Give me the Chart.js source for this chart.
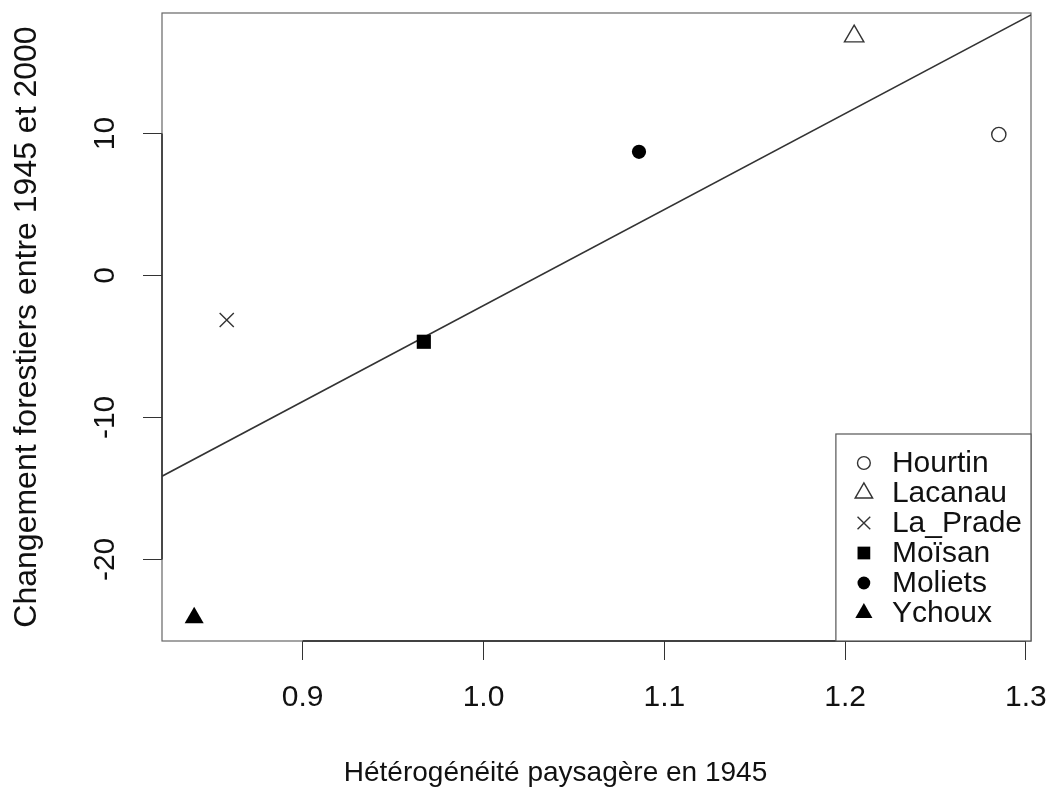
<!DOCTYPE html>
<html lang="fr">
<head>
<meta charset="UTF-8">
<title>Changement forestiers et hétérogénéité paysagère</title>
<script src="https://cdn.jsdelivr.net/npm/chart.js"></script>
<style>
  html, body { margin: 0; padding: 0; background: #fff; }
  #wrap { width: 1055px; height: 795px; }
</style>
</head>
<body>
<div id="wrap"><canvas id="plot" width="1055" height="795"></canvas></div>
<script>
// one value per site
const sites = ["Hourtin", "Lacanau", "La_Prade", "Moïsan", "Moliets", "Ychoux"];
const heterogeneity1945 = [1.285, 1.205, 0.858, 0.967, 1.086, 0.840];
const forestChange = [9.93, 16.85, -3.14, -4.67, 8.71, -24.11];

const xTicks = [0.9, 1.0, 1.1, 1.2, 1.3];
const yTicks = [-20, -10, 0, 10];

const xTitle = 'Hétérogénéité paysagère en 1945';
const yTitle = 'Changement forestiers entre 1945 et 2000';

// plotting symbols, like pch 1, 2, 4, 15, 16, 17
const symbols = [
  { style: 'circle',   radius: 7.1,  filled: false },
  { style: 'triangle', radius: 11.2, filled: false },
  { style: 'crossRot', radius: 10,   filled: false },
  { style: 'rect',     radius: 10,   filled: true },
  { style: 'circle',   radius: 7.1,  filled: true },
  { style: 'triangle', radius: 11,   filled: true }
];

const FONT = '"Liberation Sans", Arial, Helvetica, sans-serif';
const INK = '#111';
Chart.defaults.font.family = FONT;
Chart.defaults.font.size = 30;
Chart.defaults.color = INK;

// axis limits padded by 4% of the data range
function padRange(vals) {
  const lo = Math.min(...vals), hi = Math.max(...vals);
  const d = (hi - lo) * 0.04;
  return [lo - d, hi + d];
}
const xLim = padRange(heterogeneity1945);
const yLim = padRange(forestChange);

// least squares line
function lsFit(xs, ys) {
  const n = xs.length;
  const mx = xs.reduce((s, v) => s + v, 0) / n;
  const my = ys.reduce((s, v) => s + v, 0) / n;
  let sxy = 0, sxx = 0;
  for (let i = 0; i < n; i++) {
    sxy += (xs[i] - mx) * (ys[i] - my);
    sxx += (xs[i] - mx) ** 2;
  }
  const b = sxy / sxx;
  return { a: my - b * mx, b };
}
const fit = lsFit(heterogeneity1945, forestChange);

const siteSets = sites.map((name, i) => ({
  type: 'scatter',
  label: name,
  inLegend: true,
  data: [{ x: heterogeneity1945[i], y: forestChange[i] }],
  pointStyle: symbols[i].style,
  pointRadius: symbols[i].radius,
  backgroundColor: symbols[i].filled ? '#000' : 'rgba(0,0,0,0)',
  borderColor: symbols[i].filled ? '#000' : '#333',
  borderWidth: symbols[i].filled ? 0 : 1.4
}));

const fitSet = {
  type: 'line',
  label: 'fit',
  data: xLim.map(x => ({ x, y: fit.a + fit.b * x })),
  borderColor: '#333',
  borderWidth: 1.6,
  pointRadius: 0,
  fill: false
};

// box round the plot region, axis lines only between first and last tick
const frame = {
  id: 'frame',
  beforeDatasetsDraw(chart) {
    const { ctx, chartArea: a, scales: { x, y } } = chart;
    ctx.save();
    ctx.strokeStyle = '#666';
    ctx.lineWidth = 1.2;
    ctx.strokeRect(a.left, a.top, a.right - a.left, a.bottom - a.top);
    ctx.strokeStyle = '#222';
    ctx.lineWidth = 1.4;
    ctx.beginPath();
    ctx.moveTo(x.getPixelForValue(xTicks[0]), a.bottom);
    ctx.lineTo(x.getPixelForValue(xTicks[xTicks.length - 1]), a.bottom);
    ctx.moveTo(a.left, y.getPixelForValue(yTicks[0]));
    ctx.lineTo(a.left, y.getPixelForValue(yTicks[yTicks.length - 1]));
    ctx.stroke();
    ctx.restore();
  }
};

// x axis title, sits a little left of the plot centre
const xLabel = {
  id: 'xLabel',
  afterDraw(chart) {
    const { ctx, chartArea: a } = chart;
    ctx.save();
    ctx.font = '28px ' + FONT;
    ctx.fillStyle = INK;
    ctx.textAlign = 'center';
    ctx.textBaseline = 'middle';
    ctx.fillText(xTitle, (a.left + a.right) / 2 - 41, 773);
    ctx.restore();
  }
};

// legend in the bottom right corner of the plot region
const legendBox = {
  id: 'legendBox',
  afterDatasetsDraw(chart) {
    const { ctx, chartArea: a } = chart;
    const items = chart.data.datasets.filter(d => d.inLegend);
    ctx.save();
    ctx.font = '30px ' + FONT;
    const textW = Math.max(...items.map(d => ctx.measureText(d.label).width));
    const rowH = 30, padTop = 29, padBottom = 28;
    const w = 56 + textW + 9;
    const h = padTop + rowH * (items.length - 1) + padBottom;
    const x0 = a.right - w, y0 = a.bottom - h;
    ctx.fillStyle = '#fff';
    ctx.fillRect(x0, y0, w, h);
    ctx.strokeStyle = '#555';
    ctx.lineWidth = 1.2;
    ctx.strokeRect(x0, y0, w, h);
    items.forEach((d, i) => {
      const cy = y0 + padTop + i * rowH;
      ctx.fillStyle = d.backgroundColor;
      ctx.strokeStyle = d.borderColor;
      ctx.lineWidth = d.borderWidth;
      Chart.helpers.drawPoint(ctx, {
        pointStyle: d.pointStyle,
        radius: d.pointRadius * 0.9,
        rotation: 0,
        borderWidth: d.borderWidth
      }, x0 + 28, cy);
      ctx.fillStyle = INK;
      ctx.textAlign = 'left';
      ctx.textBaseline = 'middle';
      ctx.fillText(d.label, x0 + 56, cy + 1);
    });
    ctx.restore();
  }
};

// fixed axis sizes, no extra room for overhanging tick labels
function fixSize(prop, size) {
  return s => {
    s[prop] = size;
    s.paddingTop = s.paddingBottom = s.paddingLeft = s.paddingRight = 0;
  };
}

new Chart(document.getElementById('plot'), {
  data: { datasets: [...siteSets, fitSet] },
  options: {
    responsive: false,
    animation: false,
    devicePixelRatio: 1,
    events: [],
    layout: { padding: { top: 13, right: 24, bottom: 0, left: 0 } },
    plugins: { legend: { display: false }, tooltip: { enabled: false } },
    scales: {
      x: {
        type: 'linear',
        min: xLim[0],
        max: xLim[1],
        afterBuildTicks: s => { s.ticks = xTicks.map(v => ({ value: v })); },
        afterFit: fixSize('height', 154),
        ticks: { callback: v => v.toFixed(1), padding: 20, maxRotation: 0, autoSkip: false, color: INK },
        grid: { drawOnChartArea: false, tickLength: 19, color: '#333', tickColor: '#333' },
        border: { display: false }
      },
      y: {
        type: 'linear',
        min: yLim[0],
        max: yLim[1],
        afterBuildTicks: s => { s.ticks = yTicks.map(v => ({ value: v })); },
        afterFit: fixSize('width', 162),
        ticks: {
          callback: v => String(v),
          minRotation: 90,
          maxRotation: 90,
          crossAlign: 'center',
          padding: 16,
          autoSkip: false,
          color: INK
        },
        grid: { drawOnChartArea: false, tickLength: 19, color: '#333', tickColor: '#333' },
        border: { display: false },
        title: {
          display: true,
          text: yTitle,
          color: INK,
          font: { size: 32 },
          padding: { top: 8, bottom: 0 }
        }
      }
    }
  },
  plugins: [frame, legendBox, xLabel]
});
</script>
</body>
</html>
